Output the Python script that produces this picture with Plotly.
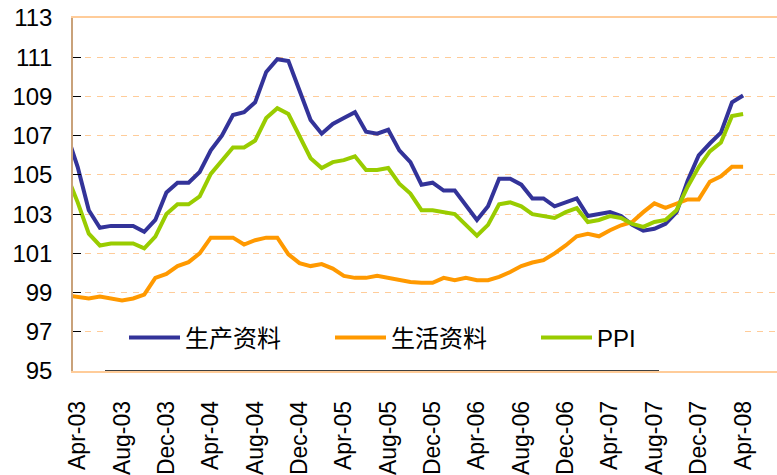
import pandas as pd
import plotly.graph_objects as go

# Monthly categories (first month is clipped by the y axis in the original chart)
months = [d.strftime("%b-%y") for d in pd.date_range("2003-03-01", "2008-04-01", freq="MS")]

producer = [107.1, 105.4, 103.2, 102.3, 102.4, 102.4, 102.4, 102.1, 102.7, 104.1, 104.6,
            104.6, 105.15, 106.25, 107.0, 108.05, 108.2, 108.7, 110.25, 110.9, 110.8,
            109.3, 107.8, 107.1, 107.6, 107.9, 108.2, 107.2, 107.1, 107.3, 106.25,
            105.65, 104.5, 104.6, 104.2, 104.2, 103.45, 102.7, 103.4, 104.8, 104.8,
            104.5, 103.8, 103.8, 103.4, 103.6, 103.8, 102.9, 103.0, 103.1, 102.9,
            102.45, 102.15, 102.25, 102.5, 103.1, 104.7, 106.0, 106.6, 107.15, 108.7, 109.05]

consumer = [98.85, 98.77, 98.7, 98.8, 98.7, 98.6, 98.7, 98.9, 99.75, 99.95, 100.35,
            100.55, 101.0, 101.8, 101.8, 101.8, 101.45, 101.67, 101.8, 101.8, 100.95,
            100.5, 100.35, 100.45, 100.22, 99.85, 99.75, 99.75, 99.85, 99.75, 99.63,
            99.54, 99.5, 99.5, 99.75, 99.63, 99.75, 99.63, 99.63, 99.8, 100.05,
            100.35, 100.53, 100.65, 101.0, 101.4, 101.87, 102.0, 101.87, 102.18, 102.43,
            102.6, 103.1, 103.55, 103.32, 103.55, 103.75, 103.75, 104.65, 104.93, 105.42, 105.42]

ppi = [105.0, 103.6, 102.0, 101.4, 101.5, 101.5, 101.5, 101.25, 101.85, 103.0, 103.5,
       103.5, 103.9, 105.05, 105.75, 106.4, 106.4, 106.75, 107.9, 108.4, 108.1,
       106.95, 105.85, 105.35, 105.65, 105.75, 105.95, 105.25, 105.25, 105.35, 104.55,
       104.05, 103.2, 103.2, 103.1, 103.0, 102.45, 101.9, 102.45, 103.5, 103.6,
       103.4, 103.0, 102.9, 102.8, 103.1, 103.3, 102.6, 102.7, 102.9, 102.8,
       102.5, 102.35, 102.6, 102.7, 103.2, 104.4, 105.4, 106.2, 106.65, 108.0, 108.1]

series_names = ["生产资料", "生活资料", "PPI"]
series_colors = ["#333399", "#FF9900", "#99CC00"]
y_ticks = list(range(95, 114, 2))

x = list(range(len(months)))
label_idx = x[1::4]
tick_labels = [months[i] for i in label_idx]
boundary_ticks = [i - 0.5 for i in label_idx]

W, H = 777, 475
ML, MT, MB = 73, 18, 104
plot_w = W - ML
plot_h = H - MT - MB
px_per_month = 11.09
x0 = 1 - 4.7 / px_per_month
x_range = [x0, x0 + plot_w / px_per_month]

fig = go.Figure()
for name, vals, col in zip(series_names, [producer, consumer, ppi], series_colors):
    fig.add_trace(go.Scatter(x=x, y=vals, mode="lines", name=name,
                             line=dict(color=col, width=4)))

grid_col = "#FFCC99"
font_main = "Liberation Sans, Arial, sans-serif"

fig.update_layout(
    width=W, height=H,
    margin=dict(l=ML, r=0, t=MT, b=MB, autoexpand=False),
    paper_bgcolor="white", plot_bgcolor="white",
    font=dict(family=font_main, size=24, color="black"),
    showlegend=True,
    legend=dict(orientation="h", x=(124 - ML) / plot_w, y=(H - MB - 338) / plot_h,
                xanchor="left", yanchor="middle",
                bgcolor="white", borderwidth=0,
                font=dict(family="Liberation Sans, Noto Sans CJK SC, sans-serif", size=24, color="black"),
                entrywidth=140, entrywidthmode="pixels", itemwidth=51),
    xaxis=dict(range=x_range, tickmode="array", tickvals=label_idx, ticktext=tick_labels,
               tickangle=-90, ticks="", showgrid=False, zeroline=False, automargin=False,
               showline=True, linecolor=grid_col, linewidth=1.5, mirror=True,
               ticklabelstandoff=19,
               tickfont=dict(family=font_main, size=23, color="black")),
    xaxis2=dict(range=x_range, overlaying="x", anchor="y", side="bottom",
                tickmode="array", tickvals=boundary_ticks, ticks="inside", ticklen=8,
                tickcolor="black", tickwidth=1, showticklabels=False, showgrid=False,
                zeroline=False, showline=False),
    yaxis=dict(range=[95, 113], tickmode="array", tickvals=y_ticks, automargin=False,
               ticks="inside", ticklen=8, tickcolor="black", tickwidth=1,
               showgrid=True, gridcolor=grid_col, gridwidth=1.3, griddash="6px,6px",
               zeroline=False, showline=True, linecolor="#C9A27A", linewidth=1.5,
               ticklabelstandoff=14,
               tickfont=dict(family=font_main, size=24, color="black")),
)

# white legend panel extends a little left of the legend entries (as in the original)
fig.add_shape(type="rect", xref="paper", yref="y", x0=(105 - ML) / plot_w, x1=(128 - ML) / plot_w,
              y0=95.1, y1=98.2, line=dict(width=0), fillcolor="white", layer="above")
# black axis segment beneath the legend box (as in the original)
fig.add_shape(type="line", xref="paper", yref="y", x0=(105 - ML) / plot_w, x1=(659 - ML) / plot_w,
              y0=95, y1=95, line=dict(color="black", width=1.5), layer="above")

fig.write_html("out.html", config={"displayModeBar": False})

# remove the browser's default page margin so the figure fills the window exactly
with open("out.html", encoding="utf-8") as f:
    page = f.read()
page = page.replace("<head>", "<head><style>html,body{margin:0;padding:0;overflow:hidden;}</style>", 1)
with open("out.html", "w", encoding="utf-8") as f:
    f.write(page)
